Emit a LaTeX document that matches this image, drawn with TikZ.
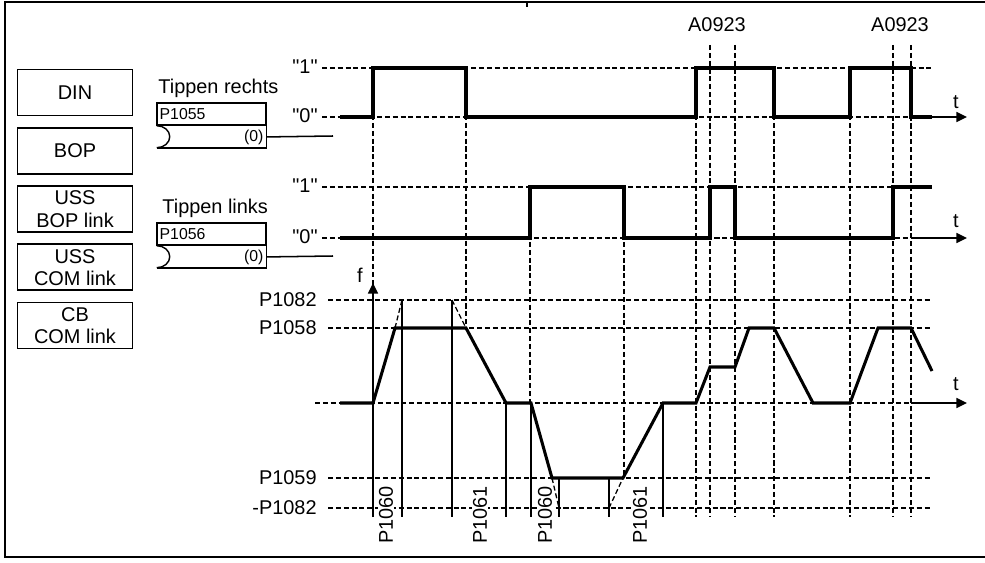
\documentclass[tikz,border=0pt]{standalone}
\usepackage{fontspec}
\setmainfont{Liberation Sans}[Ligatures=TeXOff]
\usetikzlibrary{arrows.meta,positioning}

\begin{document}
\begin{tikzpicture}[x=0.03cm,y=-0.03cm,
  srcbox/.style={rectangle,draw,line width=1.5pt,minimum width=3.45cm,minimum height=1.38cm,inner sep=0pt,align=center,font=\fontsize{17}{19}\selectfont},
  lbl/.style={inner sep=1pt,font=\fontsize{17}{19}\selectfont},
  parbox/.style={rectangle,text width=3.11cm,minimum height=0.66cm,inner xsep=0.08cm,inner ysep=0pt,font=\fontsize{13.5}{14}\selectfont},
  vlbl/.style={lbl,rotate=90,fill=white,inner sep=0.5pt},
  sig/.style={line width=2.6pt,line join=miter},
  grid/.style={line width=1.1pt,dash pattern=on 4.3pt off 2.4pt},
  tline/.style={line width=1.3pt},
  axis/.style={line width=1.1pt,-{Triangle[length=9pt,width=8.5pt]}},
  node distance=0.315cm
]
\useasboundingbox (0,0) rectangle (985,562);
% frame
\draw[line width=1.7pt] (985,2) -- (5,2) -- (5,557) -- (985,557);
\draw[line width=1.2pt] (527,2) -- (527,7);

% sources
\node[srcbox] (din) at (75,92.5) {DIN};
\node[srcbox,below=of din] (bop) {BOP};
\node[srcbox,below=of bop] (ussbop) {USS\\BOP link};
\node[srcbox,below=of ussbop] (usscom) {USS\\COM link};
\node[srcbox,below=of usscom] (cbcom) {CB\\COM link};

% parameter blocks
\node[lbl,anchor=west] (tipR) at (157,88) {Tippen rechts};
\node[parbox,draw,line width=1.2pt,align=left] (parR) at (211.5,114) {P1055};
\node[parbox,align=right,below=0pt of parR] (defR) {(0)};
\draw[line width=1.2pt] (defR.north west) -- (defR.north east) -- (defR.south east) -- (defR.south west);
\draw[line width=1.2pt] (defR.north west) arc[start angle=90,end angle=-90,x radius=0.39cm,y radius=0.33cm];
\coordinate (endR) at (333,136);
\draw[tline] (defR.east) -- (endR);

\node[lbl,anchor=west] (tipL) at (161,208) {Tippen links};
\node[parbox,draw,line width=1.2pt,align=left] (parL) at (211.5,234) {P1056};
\node[parbox,align=right,below=0pt of parL] (defL) {(0)};
\draw[line width=1.2pt] (defL.north west) -- (defL.north east) -- (defL.south east) -- (defL.south west);
\draw[line width=1.2pt] (defL.north west) arc[start angle=90,end angle=-90,x radius=0.39cm,y radius=0.33cm];
\coordinate (endL) at (333,256);
\draw[tline] (defL.east) -- (endL);

% level labels
\node[lbl,anchor=east] (hiA) at (319,67) {"1"};
\node[lbl,anchor=east] (loA) at (319,116) {"0"};
\node[lbl,anchor=east] (hiB) at (319,186) {"1"};
\node[lbl,anchor=east] (loB) at (319,237) {"0"};
\node[lbl] (fax) at (360,275) {f};
\node[lbl,anchor=east] (lvA) at (318,300) {P1082};
\node[lbl,anchor=east] (lvB) at (318,328) {P1058};
\node[lbl,anchor=east] (lvC) at (318,478) {P1059};
\node[lbl,anchor=east] (lvD) at (318,508) {-P1082};
\node[lbl] (tA) at (956,102) {t};
\node[lbl] (tB) at (956,221) {t};
\node[lbl] (tC) at (956,384) {t};
\node[lbl] (alA) at (717,25) {A0923};
\node[lbl] (alB) at (900,25) {A0923};

% dashed grid
\draw[grid] (322,68) -- (932,68);
\draw[grid] (322,117) -- (911,117);
\draw[grid] (322,187) -- (932,187);
\draw[grid] (322,238) -- (911,238);
\draw[grid] (328,300) -- (932,300);
\draw[grid] (328,328) -- (932,328);
\draw[grid] (315,403) -- (911,403);
\draw[grid] (328,478) -- (932,478);
\draw[grid] (328,508) -- (932,508);
\draw[grid] (373,68) -- (373,285);
\draw[grid] (466,68) -- (466,328);
\draw[grid] (530,187) -- (530,403);
\draw[grid] (624,187) -- (624,478);
\foreach \x in {696,774,850}
  \draw[grid] (\x,68) -- (\x,517);
\foreach \x in {710,735,893,911}
  \draw[grid] (\x,45) -- (\x,517);
\draw[grid] (395,328) -- (402,300);
\draw[grid] (452,300) -- (466,328);
\draw[grid] (552,478) -- (559,508);
\draw[grid] (609,508) -- (623,478);

% axes
\draw[axis] (911,117) -- (967,117);
\draw[axis] (911,238) -- (967,238);
\draw[axis] (911,403) -- (967,403);
\draw[axis] (373,517) -- (373,283);

% ramp times
\draw[tline] (402,300) -- (402,517);
\draw[tline] (452,300) -- (452,517);
\draw[tline] (506,403) -- (506,517);
\draw[tline] (531,403) -- (531,517);
\draw[tline] (559,478) -- (559,517);
\draw[tline] (609,478) -- (609,517);
\draw[tline] (663,403) -- (663,517);

% signals
\draw[sig] (340,117) -- (373,117) -- (373,68) -- (466,68) -- (466,117) -- (696,117) -- (696,68) -- (774,68) -- (774,117) -- (850,117) -- (850,68) -- (911,68) -- (911,117) -- (932,117);
\draw[sig] (340,238) -- (530,238) -- (530,187) -- (624,187) -- (624,238) -- (710,238) -- (710,187) -- (735,187) -- (735,238) -- (893,238) -- (893,187) -- (932,187);
\draw[sig] (340,403) -- (373,403) -- (395,328) -- (466,328) -- (506,403) -- (531,403) -- (552,478) -- (623,478) -- (663,403) -- (696,403) -- (710,367) -- (735,367) -- (749,328) -- (774,328) -- (813,403) -- (850,403) -- (878,328) -- (911,328) -- (932,371);

% ramp labels
\node[vlbl] (rA) at (386,515) {P1060};
\node[vlbl] (rB) at (480,515) {P1061};
\node[vlbl] (rC) at (545,515) {P1060};
\node[vlbl] (rD) at (640,515) {P1061};
\end{tikzpicture}
\end{document}
